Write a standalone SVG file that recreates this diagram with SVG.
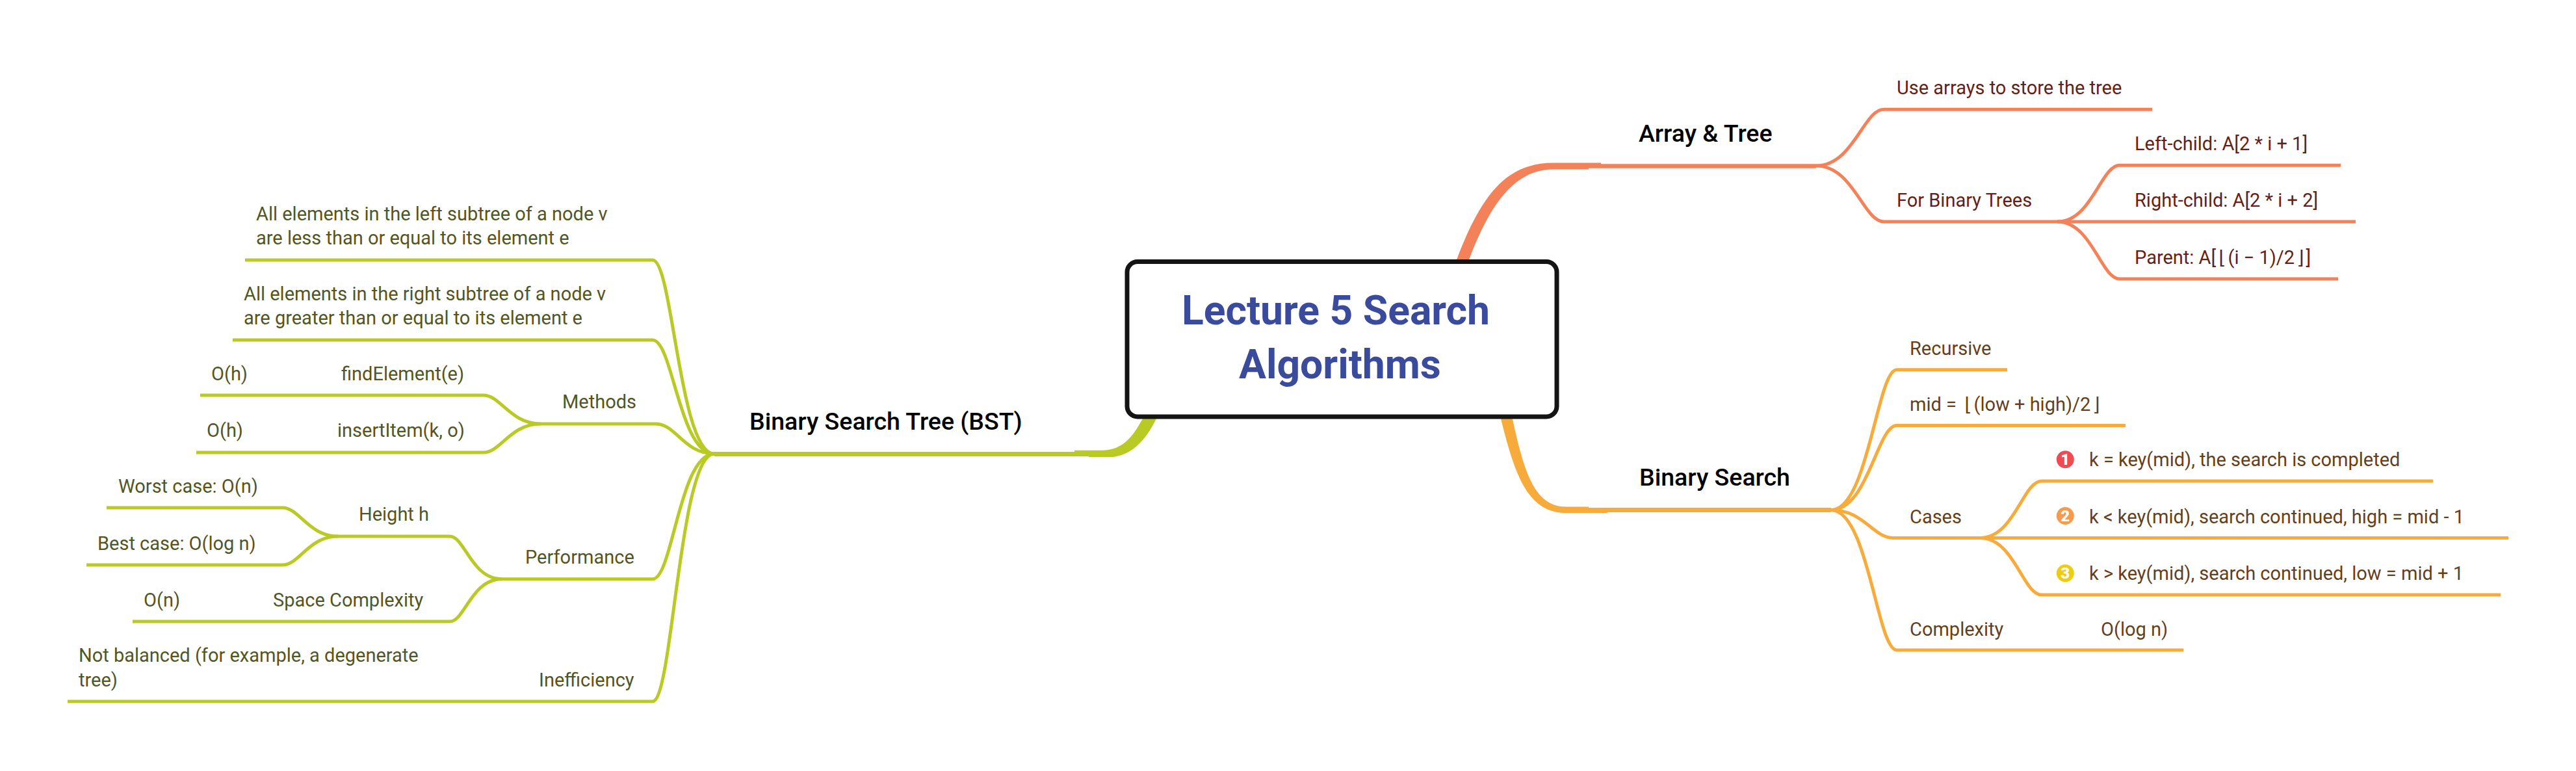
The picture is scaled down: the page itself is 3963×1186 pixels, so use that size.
<svg xmlns="http://www.w3.org/2000/svg" width="3963" height="1186" viewBox="0 0 3963 1186">
<style>
text{font-family:Roboto,"DejaVu Sans",sans-serif;font-size:29px}
.title{font-size:62.4px;font-weight:700;fill:#3A4B9E}
.main{font-size:37.5px;font-weight:500;fill:#000}
.r{fill:#661E15}.o{fill:#663F1A}.g{fill:#52561F}
.cr,.co,.cg{fill:none;stroke-width:5}
.cr{stroke:#F3825B}.co{stroke:#F7AB3B}.cg{stroke:#B9CA24}
.fr{fill:#F3825B}.fo{fill:#F7AB3B}.fg{fill:#B9CA24}
.num{font-size:24px;font-weight:900;fill:#fff;text-anchor:middle}
</style>
<rect width="3963" height="1186" fill="#fff"/>
<g id="connectors">
<path class="fr" d="M2240 402C2280 295 2320 250.6 2390 250.6H2463V252.3H2794V258.7H2444V260.5H2390C2335 260.5 2295 305 2259 402Z"/>
<path class="fo" d="M2308 640C2330 730 2350 789 2409 789H2473V788H2817V781H2444V779.5H2409C2362 779.5 2345 730 2326 640Z"/>
<path class="fg" d="M1760 640C1745 668 1730 692.7 1695 692.7H1653V695H1099V702H1675V703H1712C1740 700 1762 680 1781 640Z"/>
<path class="cr" d="M2794 255C2851 255 2867 168.3 2898 168.3H3311"/>
<path class="cr" d="M2794 255C2851 255 2867 341 2898 341H3165"/>
<path class="cr" d="M3165 341C3218 341 3232 254.3 3261 254.3H3601"/>
<path class="cr" d="M3165 341H3624"/>
<path class="cr" d="M3165 341C3218 341 3232 429 3261 429H3597"/>
<path class="co" d="M2817 784.5C2874 784.5 2888 568.8 2918 568.8H3088"/>
<path class="co" d="M2817 784.5C2874 784.5 2888 654.4 2918 654.4H3270"/>
<path class="co" d="M2817 784.5C2867 784.5 2882 827.4 2912 827.4H3046"/>
<path class="co" d="M2817 784.5C2874 784.5 2888 1000 2918 1000H3359"/>
<path class="co" d="M3046 827.4C3099 827.4 3112 740 3141 740H3743"/>
<path class="co" d="M3046 827.4H3859"/>
<path class="co" d="M3046 827.4C3099 827.4 3112 915 3141 915H3847"/>
<path class="cg" d="M1099 698C1045 698 1035 400 1004 400H377"/>
<path class="cg" d="M1099 698C1045 698 1035 523 1004 523H358"/>
<path class="cg" d="M1099 698C1052 698 1040 652 1009 652H832"/>
<path class="cg" d="M1099 698C1045 698 1035 890.7 1004 890.7H772"/>
<path class="cg" d="M1099 698C1045 698 1035 1079 1004 1079H104"/>
<path class="cg" d="M832 652C785 652 770 608 744 608H308"/>
<path class="cg" d="M832 652C785 652 770 696 744 696H302"/>
<path class="cg" d="M772 890.7C725 890.7 715 825 692 825H520"/>
<path class="cg" d="M772 890.7C725 890.7 715 956 692 956H204"/>
<path class="cg" d="M520 825C475 825 460 781 435 781H164"/>
<path class="cg" d="M520 825C475 825 460 869 435 869H133"/>
</g>
<g id="central"><rect x="1734" y="402.5" width="661" height="238.5" rx="16" fill="#fff" stroke="#141414" stroke-width="7"/>
<text class="title" x="1818" y="498.5">Lecture 5 Search</text><text class="title" x="1906" y="582">Algorithms</text></g>
<g id="array-tree"><text class="main" x="2521" y="217.7">Array &amp; Tree</text></g>
<g id="use-arrays"><text class="r" x="2918" y="145">Use arrays to store the tree</text></g>
<g id="for-binary-trees"><text class="r" x="2918" y="317.7">For Binary Trees</text></g>
<g id="left-child"><text class="r" x="3284" y="231">Left-child: A[2 * i + 1]</text></g>
<g id="right-child"><text class="r" x="3284" y="318">Right-child: A[2 * i + 2]</text></g>
<g id="parent"><text class="r" x="3284" y="405.7">Parent: A[<tspan dx="4">⌊</tspan><tspan dx="3">(i − 1)/2</tspan><tspan dx="3">⌋</tspan><tspan dx="3">]</tspan></text></g>
<g id="binary-search"><text class="main" x="2522" y="746.7">Binary Search</text></g>
<g id="recursive"><text class="o" x="2938" y="545.6">Recursive</text></g>
<g id="mid"><text class="o" x="2938" y="631.6">mid = <tspan dx="5">⌊</tspan><tspan dx="3">(low + high)/2</tspan><tspan dx="3">⌋</tspan></text></g>
<g id="cases"><text class="o" x="2938" y="804.6">Cases</text></g>
<g id="case-1"><circle cx="3177.3" cy="706.7" r="13.5" fill="#EE4B52"/><text class="num" x="3177.3" y="715">1</text><text class="o" x="3214" y="716.8">k = key(mid), the search is completed</text></g>
<g id="case-2"><circle cx="3177.3" cy="793.5" r="13.5" fill="#F59B4E"/><text class="num" x="3177.3" y="802">2</text><text class="o" x="3214" y="804.6">k &lt; key(mid), search continued, high = mid - 1</text></g>
<g id="case-3"><circle cx="3177.3" cy="881.7" r="13.5" fill="#EFCC14"/><text class="num" x="3177.3" y="890">3</text><text class="o" x="3214" y="892">k &gt; key(mid), search continued, low = mid + 1</text></g>
<g id="complexity"><text class="o" x="2938" y="977.5">Complexity</text></g>
<g id="complexity-value"><text class="o" x="3232" y="977.5">O(log n)</text></g>
<g id="bst"><text class="main" x="1153" y="661">Binary Search Tree (BST)</text></g>
<g id="left-subtree"><text class="g" x="394" y="339">All elements in the left subtree of a node v</text><text class="g" x="394" y="376">are less than or equal to its element e</text></g>
<g id="right-subtree"><text class="g" x="375" y="462">All elements in the right subtree of a node v</text><text class="g" x="375" y="499">are greater than or equal to its element e</text></g>
<g id="methods"><text class="g" x="865" y="628">Methods</text></g>
<g id="find-element"><text class="g" x="525" y="585">findElement(e)</text></g>
<g id="find-cost"><text class="g" x="325" y="585">O(h)</text></g>
<g id="insert-item"><text class="g" x="519" y="672">insertItem(k, o)</text></g>
<g id="insert-cost"><text class="g" x="318" y="672">O(h)</text></g>
<g id="performance"><text class="g" x="808" y="867">Performance</text></g>
<g id="height"><text class="g" x="552" y="801">Height h</text></g>
<g id="worst"><text class="g" x="182" y="758">Worst case: O(n)</text></g>
<g id="best"><text class="g" x="150" y="846">Best case: O(log n)</text></g>
<g id="space"><text class="g" x="420" y="933">Space Complexity</text></g>
<g id="space-value"><text class="g" x="221" y="933">O(n)</text></g>
<g id="inefficiency"><text class="g" x="829" y="1056">Inefficiency</text></g>
<g id="not-balanced"><text class="g" x="121" y="1018">Not balanced (for example, a degenerate</text><text class="g" x="121" y="1056">tree)</text></g>
</svg>
